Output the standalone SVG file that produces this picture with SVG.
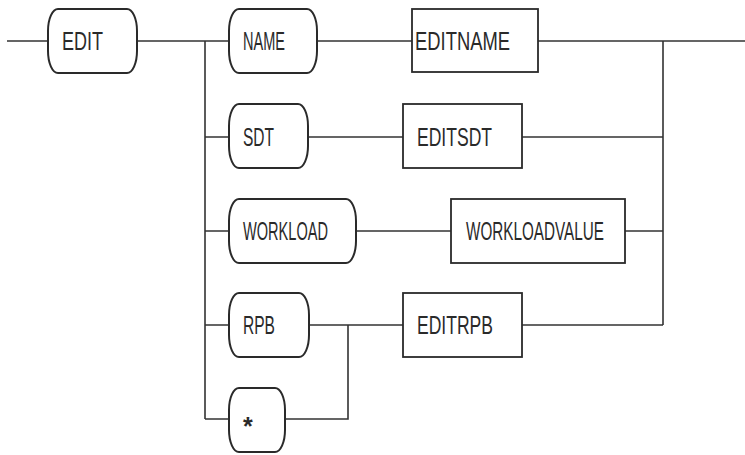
<svg xmlns="http://www.w3.org/2000/svg" width="745" height="455" viewBox="0 0 745 455">
<style>
.t{fill:none;stroke:#2a2a2a;stroke-width:2}
.b{fill:none;stroke:#2a2a2a;stroke-width:1.8}
.c{fill:none;stroke:#333;stroke-width:1.6}
text{font-family:"Liberation Sans",Arial,sans-serif;font-size:25px;fill:#2a2a2a}
</style>
<rect width="745" height="455" fill="#fff"/>
<g id="connectors">
<path class="c" d="M7 41H48M137 41H228M205 41V419M317 41H412M538 41H745M663 41V325"/>
<path class="c" d="M205 137H229M308 137H403M522 137H663"/>
<path class="c" d="M205 231H229M356 231H451M625 231H663"/>
<path class="c" d="M205 325H229M309 325H403M522 325H663"/>
<path class="c" d="M205 419H229M285 419H348V325"/>
</g>
<g id="edit"><rect class="t" x="48" y="9" width="89" height="64" rx="10" ry="22"/><text x="62" y="50" textLength="41" lengthAdjust="spacingAndGlyphs">EDIT</text></g>
<g id="name"><rect class="t" x="229" y="9" width="88" height="64" rx="10" ry="22"/><text x="243" y="50" textLength="42" lengthAdjust="spacingAndGlyphs">NAME</text></g>
<g id="editname"><rect class="b" x="412" y="9" width="126" height="63"/><text x="415" y="50" textLength="95" lengthAdjust="spacingAndGlyphs">EDITNAME</text></g>
<g id="sdt"><rect class="t" x="229" y="104" width="79" height="64" rx="10" ry="22"/><text x="243" y="146" textLength="31" lengthAdjust="spacingAndGlyphs">SDT</text></g>
<g id="editsdt"><rect class="b" x="403" y="104" width="119" height="64"/><text x="417" y="146" textLength="75" lengthAdjust="spacingAndGlyphs">EDITSDT</text></g>
<g id="workload"><rect class="t" x="229" y="199" width="127" height="64" rx="10" ry="22"/><text x="243" y="240" textLength="85" lengthAdjust="spacingAndGlyphs">WORKLOAD</text></g>
<g id="workloadvalue"><rect class="b" x="451" y="199" width="174" height="64"/><text x="466" y="240" textLength="138" lengthAdjust="spacingAndGlyphs">WORKLOADVALUE</text></g>
<g id="rpb"><rect class="t" x="229" y="293" width="80" height="64" rx="10" ry="22"/><text x="243" y="334" textLength="32" lengthAdjust="spacingAndGlyphs">RPB</text></g>
<g id="editrpb"><rect class="b" x="403" y="293" width="119" height="64"/><text x="417" y="334" textLength="76" lengthAdjust="spacingAndGlyphs">EDITRPB</text></g>
<g id="star"><rect class="t" x="229" y="388" width="56" height="64" rx="10" ry="22"/><text x="243" y="435" font-weight="bold">*</text></g>
</svg>
